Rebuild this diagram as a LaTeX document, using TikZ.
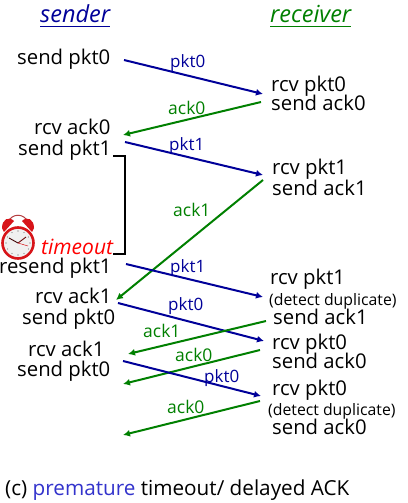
\documentclass[tikz,border=0pt]{standalone}
\usepackage{fontspec}
\setmainfont{Open Sans}
\usetikzlibrary{arrows.meta}
\definecolor{snd}{RGB}{0,0,153}
\definecolor{rcv}{RGB}{0,128,0}
\definecolor{prem}{RGB}{51,51,204}
\definecolor{bell}{RGB}{215,20,25}
\tikzset{
  x=1pt,y=-1pt,
  lab/.style={anchor=base west,inner sep=0pt,font=\fontsize{20.3}{22}\selectfont,text=black},
  dup/.style={anchor=base west,inner sep=0pt,font=\fontsize{15.8}{18}\selectfont,text=black},
  head/.style={anchor=base west,inner sep=0pt,font=\fontsize{23.5}{26}\selectfont\itshape},
  pk/.style={anchor=base west,inner sep=0pt,font=\fontsize{17}{19}\selectfont,text=snd},
  ak/.style={anchor=base west,inner sep=0pt,font=\fontsize{17.5}{19}\selectfont,text=rcv},
  pkarrow/.style={draw=snd,line width=2pt,-{Latex[length=7pt,width=7pt]}},
  akarrow/.style={draw=rcv,line width=2pt,-{Latex[length=7pt,width=7pt]}},
}
\begin{document}
\begin{tikzpicture}
\useasboundingbox (0,0) rectangle (407,503);
\fill[white] (0,0) rectangle (407,503);
% headers
\node[head,text=snd] (hs) at (40,23) {sender};
\node[head,text=rcv] (hr) at (270,23) {receiver};
\draw[snd,line width=0.8pt] (hs.south west|-0,26) -- (hs.south east|-0,26);
\draw[rcv,line width=0.8pt] (hr.south west|-0,26) -- (hr.south east|-0,26);
% sender texts
\node[lab] (s1) at (17,64) {send pkt0};
\node[lab] (s2) at (34,134) {rcv ack0};
\node[lab] (s3) at (18,155) {send pkt1};
\node[anchor=base west,inner sep=0pt,font=\fontsize{21}{23}\selectfont\itshape,text=red] (to) at (41,254) {timeout};
\node[lab] (s4) at (-1,273) {resend pkt1};
\node[lab] (s5) at (35,303) {rcv ack1};
\node[lab] (s6) at (22,324) {send pkt0};
\node[lab] (s7) at (28,356) {rcv ack1};
\node[lab] (s8) at (17,376) {send pkt0};
% receiver texts
\node[lab] (r1) at (271,91) {rcv pkt0};
\node[lab] (r2) at (271,110) {send ack0};
\node[lab] (r3) at (272,174) {rcv pkt1};
\node[lab] (r4) at (272,195) {send ack1};
\node[lab] (r5) at (270,284) {rcv pkt1};
\node[dup] (r6) at (269,305) {(detect duplicate)};
\node[lab] (r7) at (273,324) {send ack1};
\node[lab] (r8) at (272,349) {rcv pkt0};
\node[lab] (r9) at (272,368) {send ack0};
\node[lab] (r10) at (272,395) {rcv pkt0};
\node[dup] (r11) at (268,415) {(detect duplicate)};
\node[lab] (r12) at (272,434) {send ack0};
% end points
\coordinate (a1) at (124,60);  \coordinate (b1) at (263,94);
\coordinate (a2) at (261,102); \coordinate (b2) at (123,135);
\coordinate (a3) at (125,142); \coordinate (b3) at (263,175);
\coordinate (a4) at (263,180); \coordinate (b4) at (116,300);
\coordinate (a5) at (126,264); \coordinate (b5) at (263,297);
\coordinate (a6) at (118,303); \coordinate (b6) at (264,341);
\coordinate (a7) at (266,321); \coordinate (b7) at (128,354);
\coordinate (a8) at (260,350); \coordinate (b8) at (123,384);
\coordinate (a9) at (123,361); \coordinate (b9) at (261,396);
\coordinate (a10) at (260,401); \coordinate (b10) at (123,435);
% arrows
\draw[pkarrow] (a1) -- (b1);
\draw[akarrow] (a2) -- (b2);
\draw[pkarrow] (a3) -- (b3);
\draw[akarrow] (a4) -- (b4);
\draw[pkarrow] (a5) -- (b5);
\draw[pkarrow] (a6) -- (b6);
\draw[akarrow] (a7) -- (b7);
\draw[akarrow] (a8) -- (b8);
\draw[pkarrow] (a9) -- (b9);
\draw[akarrow] (a10) -- (b10);
% arrow labels
\node[pk] (l1) at (170,67) {pkt0};
\node[ak] (l2) at (168,114) {ack0};
\node[pk] (l3) at (169,150) {pkt1};
\node[ak] (l4) at (173,216) {ack1};
\node[pk] (l5) at (170,272) {pkt1};
\node[pk] (l6) at (168,310) {pkt0};
\node[ak] (l7) at (143,337) {ack1};
\node[ak] (l8) at (175,361) {ack0};
\node[pk] (l9) at (204,382) {pkt0};
\node[ak] (l10) at (167,413) {ack0};
% bracket
\draw[black,line width=2pt] (113,156) -- (125,156) -- (125,254) -- (113,254);
% clock
\draw[bell!60!gray,line width=1pt] (8,222) .. controls (12,213) and (24,213) .. (28,222);
\fill[bell] (2,228) .. controls (2,219) and (9,216) .. (14,221) -- (4,232) -- cycle;
\fill[bell] (34,228) .. controls (34,219) and (27,216) .. (22,221) -- (32,232) -- cycle;
\draw[bell,line width=2.6pt,fill=gray!12] (18,243) circle (15.5);
\draw[bell!50!black,line width=0.9pt] (18,243) -- (26,237);
\draw[bell!30!black,line width=0.9pt] (18,243) -- (9,238);
\draw[bell,line width=0.5pt] (18,243) -- (28,246);
\foreach \k in {0,30,...,330} \fill[gray!70!black] ({18+12*cos(\k)},{243+12*sin(\k)}) circle (0.6);
% caption
\node[anchor=base west,inner sep=0pt,font=\fontsize{20.7}{23}\selectfont] (cap) at (5,495) {(c) \textcolor{prem}{premature} timeout/ delayed ACK};
\end{tikzpicture}
\end{document}
